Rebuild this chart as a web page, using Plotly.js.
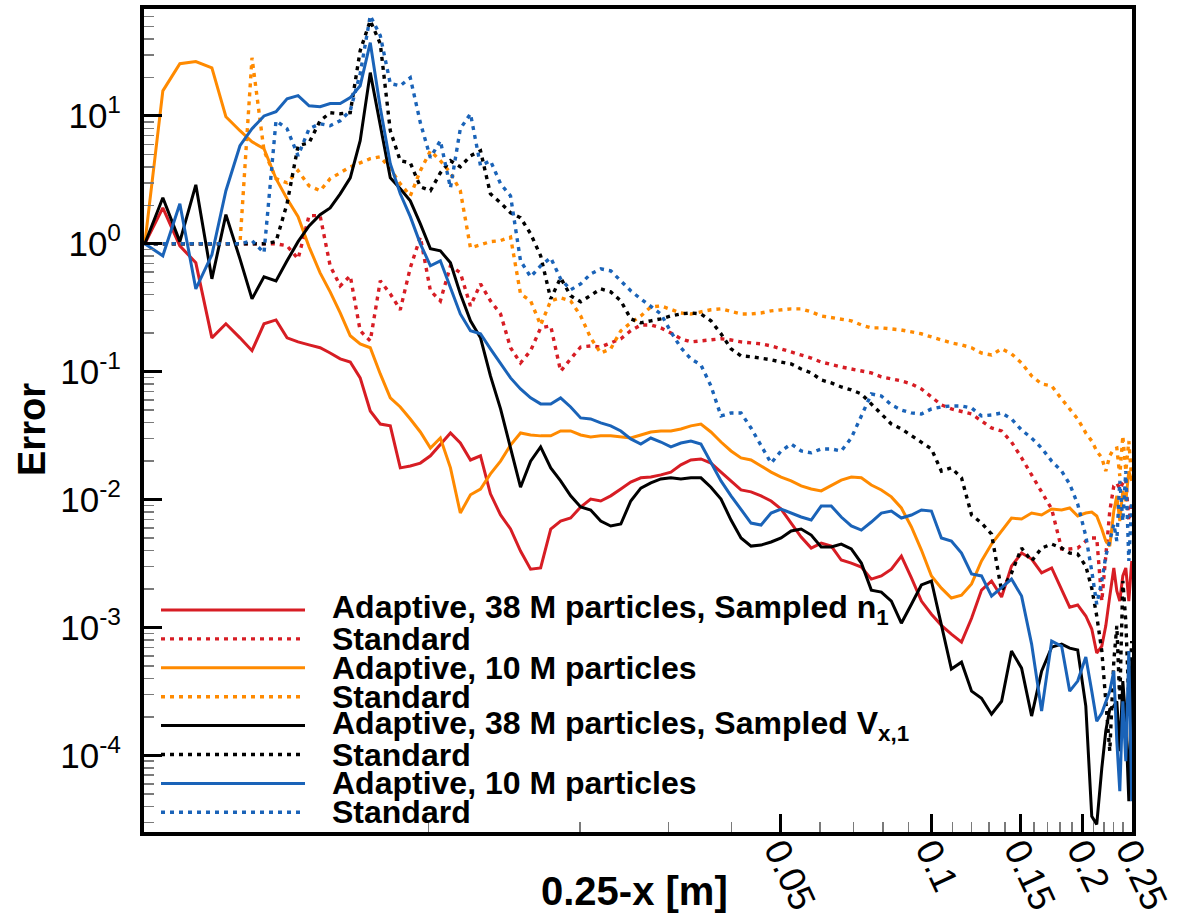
<!DOCTYPE html>
<html>
<head>
<meta charset="utf-8">
<script src="https://cdn.plot.ly/plotly-3.0.1.min.js"></script>
<style>
  html, body { margin: 0; padding: 0; background: #ffffff; }
  #chart { width: 1186px; height: 918px; }
</style>
</head>
<body>
<div id="chart"></div>
<script>
// Distance from the wall, 0.25 - x [m]
const wallDistance = [
  0.00273, 0.002965, 0.003205, 0.003448, 0.003711, 0.003957, 0.00422, 0.004459, 0.004711, 0.004977,
  0.005235, 0.005506, 0.00579, 0.00609, 0.006377, 0.006677, 0.006991, 0.007316, 0.007662, 0.008021,
  0.008397, 0.00879, 0.009202, 0.009636, 0.01009, 0.01056, 0.01106, 0.01157, 0.01212, 0.01269,
  0.01328, 0.01391, 0.01456, 0.01524, 0.01596, 0.01671, 0.0175, 0.01831, 0.01917, 0.02007,
  0.02101, 0.022, 0.02303, 0.02412, 0.02524, 0.02643, 0.02767, 0.02897, 0.03033, 0.03175,
  0.03324, 0.0348, 0.03643, 0.03815, 0.03994, 0.04181, 0.04377, 0.04583, 0.04798, 0.05023,
  0.05259, 0.05506, 0.05765, 0.06035, 0.06319, 0.06615, 0.06926, 0.07252, 0.07591, 0.07947,
  0.0832, 0.0871, 0.0912, 0.09547, 0.09995, 0.1046, 0.1095, 0.1147, 0.1201, 0.1257,
  0.1316, 0.1378, 0.1442, 0.151, 0.1581, 0.1655, 0.1733, 0.1814, 0.1882, 0.1952,
  0.2026, 0.2082, 0.213, 0.218, 0.222, 0.2261, 0.2303, 0.2335, 0.2367, 0.24,
  0.2433, 0.2467, 0.25
];

// Density n1, adaptive run with 38 M particles
const adaptiveN1 = [
  1, 1.91, 0.965, 0.71, 0.184, 0.237, 0.184, 0.146, 0.237, 0.254,
  0.184, 0.171, 0.162, 0.154, 0.14, 0.126, 0.119, 0.0894, 0.0493, 0.039,
  0.0377, 0.0177, 0.0183, 0.0193, 0.022, 0.0272, 0.0332, 0.0277, 0.0204, 0.022,
  0.0111, 0.00758, 0.00589, 0.00396, 0.00286, 0.00292, 0.00589, 0.0068, 0.00718, 0.00875,
  0.0101, 0.00975, 0.0107, 0.0121, 0.0137, 0.0148, 0.015, 0.0156, 0.0164, 0.0187,
  0.0204, 0.0208, 0.0193, 0.0164, 0.014, 0.0119, 0.0115, 0.0107, 0.00975, 0.00844,
  0.00656, 0.0051, 0.00418, 0.00457, 0.00433, 0.00337, 0.00319, 0.00297, 0.00239, 0.00253,
  0.00286, 0.00362, 0.00244, 0.00161, 0.00127, 0.00104, 0.000888, 0.000769, 0.00118, 0.00196,
  0.00231, 0.00173, 0.00302, 0.00382, 0.00343, 0.00267, 0.00292, 0.002, 0.00144, 0.0015,
  0.00123, 0.000972, 0.000631, 0.000715, 0.00103, 0.00176, 0.00292, 0.00193, 0.00161, 0.00253,
  0.00292, 0.00161, 0.00331
];

// Density n1, standard run
const standardN1 = [
  1, 1, 1, 1, 1, 1, 1, 1, 1, 1,
  0.965, 0.763, 1.66, 1.66, 0.673, 0.469, 0.562, 0.209, 0.174, 0.513,
  0.406, 0.305, 0.649, 1.13, 0.429, 0.358, 0.673, 0.593, 0.327, 0.486,
  0.358, 0.283, 0.154, 0.117, 0.146, 0.22, 0.228, 0.101, 0.126, 0.156,
  0.159, 0.156, 0.168, 0.181, 0.209, 0.232, 0.232, 0.22, 0.201, 0.181,
  0.171, 0.174, 0.177, 0.181, 0.177, 0.171, 0.168, 0.165, 0.159, 0.151,
  0.143, 0.135, 0.128, 0.119, 0.113, 0.109, 0.105, 0.101, 0.0979, 0.0911,
  0.0878, 0.0847, 0.0803, 0.0733, 0.0635, 0.055, 0.0512, 0.0485, 0.0467, 0.0412,
  0.0363, 0.0344, 0.0282, 0.0212, 0.0156, 0.0117, 0.00844, 0.00411, 0.00411, 0.00418,
  0.00474, 0.00501, 0.00501, 0.00161, 0.00396, 0.00814, 0.0128, 0.0135, 0.0121, 0.0135,
  0.0145, 0.0068, 0.00975
];

// Density n1, adaptive run with 10 M particles
const adaptive10MN1 = [
  1, 15.7, 25.6, 26.6, 23.8, 9.86, 7.66, 6.28, 5.54, 3.23,
  2.25, 1.63, 0.947, 0.593, 0.421, 0.288, 0.191, 0.165, 0.154, 0.0961,
  0.0624, 0.053, 0.0427, 0.0338, 0.0253, 0.0303, 0.0177, 0.00785, 0.0109, 0.0121,
  0.0159, 0.02, 0.0267, 0.0332, 0.032, 0.0315, 0.0315, 0.0344, 0.0344, 0.032,
  0.0309, 0.0315, 0.0315, 0.0309, 0.0303, 0.032, 0.0338, 0.0344, 0.0344, 0.0357,
  0.0377, 0.039, 0.0338, 0.0282, 0.024, 0.0212, 0.0204, 0.0183, 0.0164, 0.015,
  0.014, 0.0128, 0.0121, 0.0117, 0.0128, 0.0142, 0.015, 0.0148, 0.013, 0.0119,
  0.0105, 0.0086, 0.00611, 0.00403, 0.00253, 0.00203, 0.0017, 0.00179, 0.00219, 0.00331,
  0.00449, 0.00568, 0.00718, 0.00705, 0.00785, 0.00758, 0.00844, 0.00829, 0.0086, 0.00744,
  0.00785, 0.008, 0.00744, 0.00589, 0.00474, 0.00433, 0.00814, 0.0107, 0.0068, 0.0117,
  0.00975, 0.0167, 0.014
];

// Density n1, standard run for the 10 M case
const standard10MN1 = [
  1, 1, 1, 1, 1, 1, 1, 28.5, 5.34, 3.23,
  3.0, 3.73, 2.84, 2.6, 3.23, 3.59, 4.0, 4.3, 4.63, 4.8,
  3.86, 2.95, 2.37, 3.73, 5.34, 4.46, 3.59, 2.6, 0.93, 0.982,
  1.04, 1.06, 1.13, 0.406, 0.358, 0.232, 0.358, 0.378, 0.358, 0.273,
  0.184, 0.14, 0.151, 0.209, 0.241, 0.273, 0.321, 0.327, 0.305, 0.288,
  0.283, 0.294, 0.305, 0.31, 0.294, 0.283, 0.283, 0.288, 0.299, 0.305,
  0.31, 0.31, 0.294, 0.273, 0.264, 0.259, 0.25, 0.232, 0.22, 0.22,
  0.216, 0.212, 0.205, 0.198, 0.187, 0.177, 0.168, 0.162, 0.154, 0.14,
  0.135, 0.151, 0.138, 0.117, 0.0927, 0.0803, 0.0774, 0.0612, 0.0512, 0.0427,
  0.0332, 0.0287, 0.024, 0.0212, 0.0167, 0.022, 0.0249, 0.0253, 0.0153, 0.0315,
  0.0167, 0.0287, 0.014
];

// Velocity Vx,1, adaptive run with 38 M particles
const adaptiveVx1 = [
  1, 2.29, 1.04, 2.89, 0.532, 1.69, 0.763, 0.371, 0.552, 0.513,
  0.736, 1.04, 1.38, 1.69, 1.91, 2.46, 3.28, 6.4, 21.8, 8.23,
  3.28, 2.69, 2.17, 1.43, 0.914, 0.882, 0.71, 0.406, 0.25, 0.184,
  0.0927, 0.0512, 0.0253, 0.0125, 0.02, 0.0258, 0.0177, 0.014, 0.0107, 0.00875,
  0.00829, 0.0068, 0.00622, 0.00644, 0.00975, 0.0123, 0.0135, 0.0145, 0.0148, 0.0145,
  0.0148, 0.0148, 0.0125, 0.0101, 0.00692, 0.00501, 0.00433, 0.00441, 0.00466, 0.00501,
  0.00568, 0.00589, 0.00528, 0.00426, 0.00426, 0.00449, 0.00411, 0.00319, 0.00196, 0.00189,
  0.00161, 0.00108, 0.00152, 0.00215, 0.00231, 0.00106, 0.000473, 0.000536, 0.000318, 0.00028,
  0.00021, 0.000265, 0.000654, 0.000481, 0.000203, 0.000456, 0.000702, 0.000742, 0.00069, 0.000666,
  0.000243, 0.0000334, 0.0000289, 0.0000794, 0.000155, 0.00023, 0.000243, 0.000265, 0.000108, 0.000381,
  0.000185, 0.0000438, 0.000546
];

// Velocity Vx,1, standard run
const standardVx1 = [
  1, 1, 1, 1, 1, 1, 1, 1, 1, 1.04,
  2.06, 5.85, 6.17, 9.17, 10.6, 10.4, 10.6, 32.4, 55.6, 36.7,
  7.66, 4.46, 4.3, 2.79, 2.6, 3.59, 4.46, 4.0, 4.88, 5.34,
  2.46, 2.09, 1.75, 1.6, 1.2, 0.806, 0.371, 0.542, 0.392, 0.352,
  0.392, 0.444, 0.421, 0.358, 0.259, 0.241, 0.25, 0.259, 0.273, 0.283,
  0.288, 0.283, 0.25, 0.198, 0.151, 0.133, 0.131, 0.128, 0.124, 0.119,
  0.115, 0.105, 0.0979, 0.0863, 0.0818, 0.076, 0.0721, 0.067, 0.056, 0.0459,
  0.039, 0.0357, 0.0315, 0.0282, 0.0249, 0.0167, 0.0177, 0.0148, 0.00758, 0.00656,
  0.00538, 0.00193, 0.00267, 0.00418, 0.00331, 0.00418, 0.00449, 0.00418, 0.00382, 0.00375,
  0.00302, 0.00203, 0.00123, 0.000654, 0.000265, 0.000108, 0.000546, 0.00103, 0.000265, 0.00231,
  0.00112, 0.000265, 0.000783
];

// Velocity Vx,1, adaptive run with 10 M particles
const adaptive10MVx1 = [
  1, 0.806, 2.06, 0.444, 0.82, 2.6, 5.85, 7.94, 10.0, 10.8,
  13.6, 14.4, 12.0, 11.8, 12.5, 12.5, 13.9, 17.2, 37.4, 11.6,
  4.23, 2.46, 1.63, 1.0, 0.673, 0.736, 0.453, 0.283, 0.209, 0.198,
  0.151, 0.117, 0.0894, 0.0733, 0.0624, 0.056, 0.056, 0.0624, 0.053, 0.0435,
  0.0427, 0.0398, 0.0377, 0.0344, 0.0298, 0.0272, 0.0303, 0.0282, 0.0258, 0.0277,
  0.0287, 0.0272, 0.0197, 0.014, 0.0107, 0.00844, 0.00656, 0.00633, 0.00785, 0.00844,
  0.00785, 0.00731, 0.00692, 0.00891, 0.00891, 0.00731, 0.00622, 0.00578, 0.00668, 0.00785,
  0.00814, 0.00718, 0.00758, 0.00829, 0.00814, 0.00501, 0.00474, 0.00382, 0.00262, 0.00253,
  0.00176, 0.00207, 0.00239, 0.00176, 0.000742, 0.000222, 0.000783, 0.000715, 0.000318, 0.000381,
  0.000587, 0.000318, 0.000185, 0.000214, 0.000265, 0.000318, 0.000456, 0.000129, 0.0000525, 0.000265,
  0.0000901, 0.000654, 0.0000438
];

// Velocity Vx,1, standard run for the 10 M case
const standard10MVx1 = [
  1, 1, 1, 1, 1, 1, 1, 1.06, 0.85, 9.17,
  7.94, 4.88, 7.94, 8.69, 8.38, 9.17, 11.0, 21.4, 60.8, 42.4,
  17.9, 17.2, 19.9, 8.85, 4.71, 6.4, 2.74, 7.94, 10.4, 4.08,
  4.46, 2.95, 2.37, 0.736, 0.552, 0.673, 0.777, 0.532, 0.437, 0.486,
  0.582, 0.637, 0.615, 0.513, 0.429, 0.371, 0.327, 0.283, 0.205, 0.154,
  0.126, 0.113, 0.0774, 0.0451, 0.0476, 0.0476, 0.0363, 0.0263, 0.0193, 0.024,
  0.0272, 0.024, 0.0232, 0.0249, 0.0249, 0.024, 0.0303, 0.0451, 0.067, 0.0646,
  0.055, 0.0502, 0.0476, 0.0467, 0.0512, 0.053, 0.054, 0.054, 0.0521, 0.0451,
  0.0459, 0.0476, 0.0427, 0.035, 0.0303, 0.0253, 0.02, 0.0167, 0.0132, 0.00924,
  0.00519, 0.00276, 0.00152, 0.00231, 0.00362, 0.00474, 0.00644, 0.00474, 0.014, 0.0068,
  0.0167, 0.00331, 0.00975
];

const seriesLabels = [
  'Adaptive, 38 M particles, Sampled n<sub>1</sub>',
  'Standard',
  'Adaptive, 10 M particles',
  'Standard',
  'Adaptive, 38 M particles, Sampled V<sub>x,1</sub>',
  'Standard',
  'Adaptive, 10 M particles',
  'Standard'
];

const xTickVals = [0.05, 0.1, 0.15, 0.2, 0.25];
const xTickText = ['0.05', '0.1', '0.15', '0.2', '0.25'];
const yTickVals = [1e-4, 1e-3, 1e-2, 1e-1, 1, 10];
const yTickText = ['10<sup>-4</sup>', '10<sup>-3</sup>', '10<sup>-2</sup>', '10<sup>-1</sup>', '10<sup>0</sup>', '10<sup>1</sup>'];

// ---- styling ----
const seriesValues = [adaptiveN1, standardN1, adaptive10MN1, standard10MN1,
                      adaptiveVx1, standardVx1, adaptive10MVx1, standard10MVx1];
const lineColors = ['#d71d24', '#d71d24', '#ff8a00', '#ff8a00', '#000000', '#000000', '#1a63b8', '#1a63b8'];
const dotted = '4px,5px';
const lineDash = ['solid', dotted, 'solid', dotted, 'solid', dotted, 'solid', dotted];
const lineWidths = [3, 3.4, 3, 3.4, 3, 3.4, 3, 3.4];

const FONT = '"Liberation Sans", Arial, Helvetica, sans-serif';

// plot area in pixels
const W = 1186, H = 918;
const M = { l: 144, r: 54, t: 9, b: 86 };
const plotW = W - M.l - M.r;
const plotH = H - M.t - M.b;
const toPaperX = px => (px - M.l) / plotW;
const toPaperY = py => (H - M.b - py) / plotH;

const traces = seriesValues.map((vals, i) => ({
  type: 'scatter',
  mode: 'lines',
  x: wallDistance,
  y: vals,
  name: seriesLabels[i],
  showlegend: false,
  line: { color: lineColors[i], width: lineWidths[i], dash: lineDash[i] }
}));

// minor ticks: every 0.01 on x, every digit on y
const xMinor = [];
for (let k = 1; k <= 24; k++) if (k % 5 !== 0) xMinor.push(k / 100);
const yMinor = [];
for (let e = -5; e <= 1; e++) for (let m = 2; m <= 9; m++) yMinor.push(m * Math.pow(10, e));

// legend drawn inside the plot, lower left
const shapes = [];
const annotations = [];
const legendTop = 610, legendStep = 28.9;
seriesLabels.forEach((label, i) => {
  const py = legendTop + i * legendStep;
  shapes.push({
    type: 'line', xref: 'paper', yref: 'paper',
    x0: toPaperX(161), x1: toPaperX(305), y0: toPaperY(py), y1: toPaperY(py),
    line: { color: lineColors[i], width: lineWidths[i], dash: lineDash[i] }
  });
  annotations.push({
    xref: 'paper', yref: 'paper', x: toPaperX(330), y: toPaperY(py),
    xanchor: 'left', yanchor: 'middle', showarrow: false,
    text: '<b>' + label + '</b>',
    font: { family: FONT, size: 32, color: '#000' }
  });
});

annotations.push({
  xref: 'paper', yref: 'paper', x: toPaperX(634), y: toPaperY(891),
  xanchor: 'center', yanchor: 'middle', showarrow: false,
  text: '<b>0.25-x [m]</b>',
  font: { family: FONT, size: 40, color: '#000' }
});
annotations.push({
  xref: 'paper', yref: 'paper', x: toPaperX(32), y: toPaperY(430),
  xanchor: 'center', yanchor: 'middle', showarrow: false, textangle: -90,
  text: '<b>Error</b>',
  font: { family: FONT, size: 38, color: '#000' }
});

const layout = {
  width: W, height: H,
  margin: M,
  paper_bgcolor: '#ffffff',
  plot_bgcolor: '#ffffff',
  showlegend: false,
  xaxis: {
    type: 'log',
    range: [Math.log10(0.00272), Math.log10(0.2503)],
    tickmode: 'array', tickvals: xTickVals, ticktext: xTickText,
    ticks: 'inside', ticklen: 18, tickwidth: 3, tickcolor: '#000',
    tickangle: 65, ticklabelstandoff: -22,
    tickfont: { family: FONT, size: 37, color: '#000' },
    minor: { tickmode: 'array', tickvals: xMinor, ticks: 'inside', ticklen: 10, tickwidth: 1.5, tickcolor: '#7a7a7a' },
    showgrid: false, zeroline: false,
    showline: true, linewidth: 4, linecolor: '#000', mirror: true
  },
  yaxis: {
    type: 'log',
    range: [-4.599, 1.836],
    tickmode: 'array', tickvals: yTickVals, ticktext: yTickText,
    ticks: 'inside', ticklen: 18, tickwidth: 3, tickcolor: '#000',
    ticklabelstandoff: 12,
    tickfont: { family: FONT, size: 35, color: '#000' },
    minor: { tickmode: 'array', tickvals: yMinor, ticks: 'inside', ticklen: 10, tickwidth: 1.5, tickcolor: '#7a7a7a' },
    showgrid: false, zeroline: false,
    showline: true, linewidth: 4, linecolor: '#000', mirror: true
  },
  shapes: shapes,
  annotations: annotations
};

Plotly.newPlot('chart', traces, layout, { displayModeBar: false, staticPlot: true });
</script>
</body>
</html>
